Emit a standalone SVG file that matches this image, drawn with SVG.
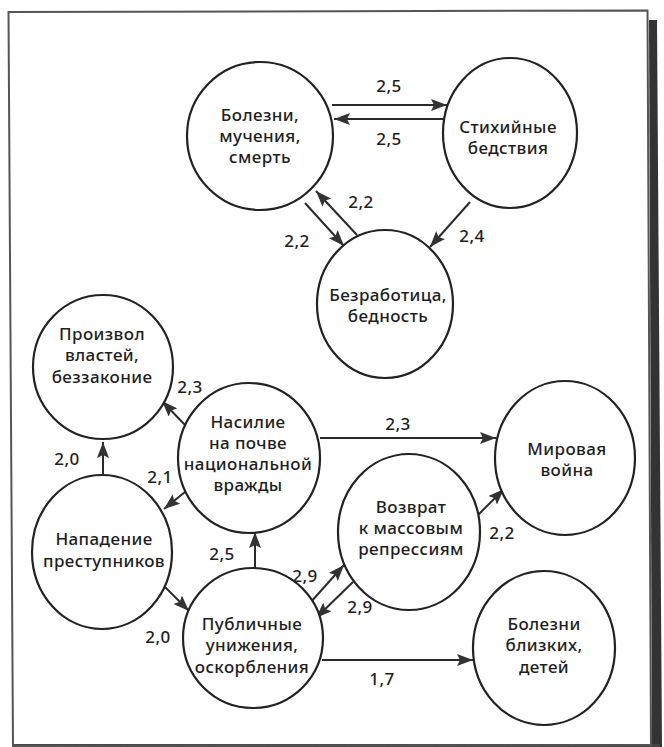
<svg xmlns="http://www.w3.org/2000/svg" width="664" height="747" viewBox="0 0 664 747">
<style>
.node{fill:#fff;stroke:#222;stroke-width:2.2}
.t{font-family:"Noto Sans","Open Sans","DejaVu Sans",sans-serif;font-size:17px;font-weight:500;letter-spacing:0.4px;fill:#1e1e1e;text-anchor:middle}
.c{stroke:#2a2a2a;stroke-width:2;fill:none;marker-end:url(#ah)}
</style>
<defs>
<marker id="ah" markerUnits="userSpaceOnUse" markerWidth="18" markerHeight="12" refX="16" refY="6" orient="auto">
<path d="M0,0 L16,6 L0,12 L3,6 z" fill="#333"/>
</marker>
</defs>
<rect x="0" y="0" width="664" height="747" fill="#fff"/>
<polygon points="649,20 657,20 662,747 652,747" fill="#333"/>
<polygon points="14,744 660,744 660,747 14,747" fill="#444"/>
<polygon points="8.5,12 647.5,10.5 651,745 13,746" fill="none" stroke="#555" stroke-width="2"/>

<g id="connectors">
<line class="c" x1="332" y1="105" x2="447" y2="105"/>
<line class="c" x1="445" y1="119" x2="334" y2="119"/>
<line class="c" x1="305" y1="203" x2="344" y2="246"/>
<line class="c" x1="357" y1="235" x2="316" y2="191"/>
<line class="c" x1="470" y1="202" x2="430" y2="247"/>
<line class="c" x1="185" y1="425" x2="162" y2="401"/>
<line class="c" x1="103" y1="474" x2="103" y2="442"/>
<line class="c" x1="185" y1="492" x2="164" y2="509"/>
<line class="c" x1="320" y1="438" x2="496" y2="438"/>
<line class="c" x1="478" y1="515" x2="504" y2="489"/>
<line class="c" x1="255" y1="570" x2="255" y2="532"/>
<line class="c" x1="165" y1="587" x2="189" y2="611"/>
<line class="c" x1="310" y1="603" x2="344" y2="565"/>
<line class="c" x1="353" y1="582" x2="316" y2="618"/>
<line class="c" x1="322" y1="660" x2="473" y2="660"/>
<text class="t" x="389" y="92">2,5</text>
<text class="t" x="389" y="145">2,5</text>
<text class="t" x="361" y="208">2,2</text>
<text class="t" x="297" y="247">2,2</text>
<text class="t" x="472" y="242">2,4</text>
<text class="t" x="190" y="393">2,3</text>
<text class="t" x="67" y="465">2,0</text>
<text class="t" x="160" y="483">2,1</text>
<text class="t" x="398" y="430">2,3</text>
<text class="t" x="502" y="539">2,2</text>
<text class="t" x="222" y="560">2,5</text>
<text class="t" x="305" y="582">2,9</text>
<text class="t" x="360" y="613">2,9</text>
<text class="t" x="158" y="643">2,0</text>
<text class="t" x="382" y="685">1,7</text>
</g>

<g id="n1"><ellipse class="node" cx="260" cy="136" rx="73" ry="74"/>
<text class="t" x="260" y="121">Болезни,</text><text class="t" x="260" y="142">мучения,</text><text class="t" x="260" y="163">смерть</text></g>
<g id="n2"><ellipse class="node" cx="510" cy="133" rx="67" ry="75"/>
<text class="t" x="508" y="133">Стихийные</text><text class="t" x="508" y="154">бедствия</text></g>
<g id="n3"><ellipse class="node" cx="385" cy="304" rx="68" ry="74"/>
<text class="t" x="388" y="301">Безработица,</text><text class="t" x="388" y="322">бедность</text></g>
<g id="n4"><ellipse class="node" cx="103" cy="367" rx="70" ry="72"/>
<text class="t" x="102" y="340">Произвол</text><text class="t" x="102" y="361">властей,</text><text class="t" x="102" y="383">беззаконие</text></g>
<g id="n5"><ellipse class="node" cx="249" cy="458" rx="71" ry="75"/>
<text class="t" x="248" y="428">Насилие</text><text class="t" x="248" y="449">на почве</text><text class="t" x="248" y="470">национальной</text><text class="t" x="248" y="491">вражды</text></g>
<g id="n6"><ellipse class="node" cx="102" cy="552" rx="70" ry="77"/>
<text class="t" x="104" y="545">Нападение</text><text class="t" x="104" y="567">преступников</text></g>
<g id="n7"><ellipse class="node" cx="253" cy="638" rx="70" ry="70"/>
<text class="t" x="252" y="630">Публичные</text><text class="t" x="252" y="651">унижения,</text><text class="t" x="252" y="673">оскорбления</text></g>
<g id="n8"><ellipse class="node" cx="409" cy="532" rx="71" ry="78"/>
<text class="t" x="411" y="513">Возврат</text><text class="t" x="411" y="534">к массовым</text><text class="t" x="411" y="555">репрессиям</text></g>
<g id="n9"><ellipse class="node" cx="565" cy="458" rx="70" ry="77"/>
<text class="t" x="567" y="455">Мировая</text><text class="t" x="567" y="476">война</text></g>
<g id="n10"><ellipse class="node" cx="544" cy="648" rx="71" ry="77"/>
<text class="t" x="544" y="630">Болезни</text><text class="t" x="544" y="651">близких,</text><text class="t" x="544" y="673">детей</text></g>
</svg>
